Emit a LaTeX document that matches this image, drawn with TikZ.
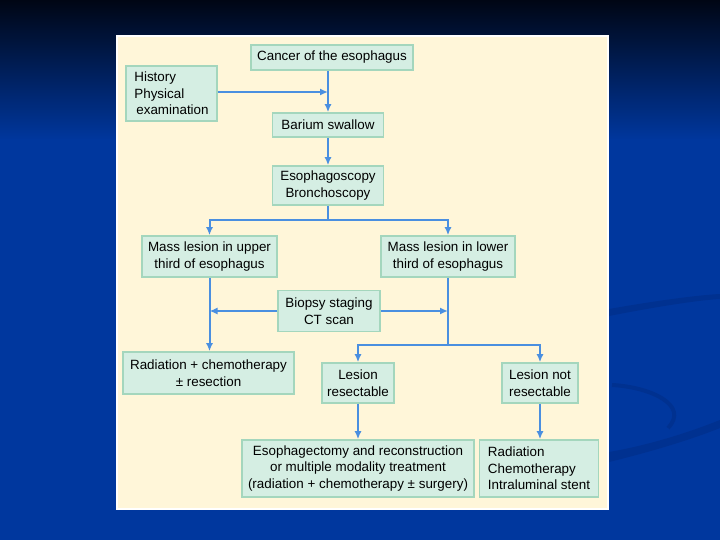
\documentclass[tikz,border=0pt]{standalone}
\usepackage{fontspec}
\setmainfont{Liberation Sans}
\usepackage{tikz}
\usetikzlibrary{arrows.meta}

\definecolor{topbg}{HTML}{000614}
\definecolor{midbg}{HTML}{001C5E}
\definecolor{slidebg}{HTML}{00379E}
\definecolor{swoosh}{HTML}{003190}
\definecolor{panel}{HTML}{FFF6D9}
\definecolor{boxfill}{HTML}{D5EEE3}
\definecolor{boxline}{HTML}{A4D6BD}
\definecolor{arrowblue}{HTML}{4A8FE0}

\begin{document}
\begin{tikzpicture}[x=1pt,y=-1pt,
        box/.style={draw=boxline,line width=1.6pt,fill=boxfill,inner sep=2pt,
            align=center,font=\fontsize{13.4}{16.5}\selectfont},
        arr/.style={draw=arrowblue,line width=2pt,-{Latex[length=8pt,width=7pt]}},
        link/.style={draw=arrowblue,line width=2pt}]
            \useasboundingbox (0,0) rectangle (720,540);

            % slide background
            \shade[top color=topbg,middle color=midbg,bottom color=slidebg] (0,0) rectangle (720,140);
            \fill[slidebg] (0,139) rectangle (720,540);
            \fill[swoosh] (609,309) .. controls (660,300) and (700,295) .. (720,294)
                -- (720,299) .. controls (700,300) and (660,306) .. (609,316) -- cycle;
            \draw[swoosh,line width=4pt] (612,385) .. controls (650,387) and (690,405) .. (668,428);
            \fill[swoosh] (609,452) .. controls (650,445) and (690,432) .. (720,420)
                -- (720,428) .. controls (690,440) and (650,452) .. (609,462) -- cycle;

            % panel
            \fill[white] (116,35) rectangle (609,510);
            \fill[panel] (118,37) rectangle (607,508);

            \node[box,minimum width=162pt,minimum height=25pt] (cancer) at (332,57.5){Cancer of the esophagus};
            \node[box,align=left,minimum width=91pt,minimum height=55pt] (hist) at (171.5,93.5){History\\Physical\\\hspace{2pt}examination};
            \node[box,minimum width=111pt,minimum height=24pt] (barium) at (328,125){Barium swallow};
            \node[box,minimum width=111pt,minimum height=39pt] (esoph) at (328,185.5){Esophagoscopy\\Bronchoscopy};
            \node[box,minimum width=135pt,minimum height=41pt] (upper) at (209.5,256.5){Mass lesion in upper\\third of esophagus};
            \node[box,minimum width=134pt,minimum height=41pt] (lower) at (448,256.5){Mass lesion in lower\\third of esophagus};
            \node[box,minimum width=102pt,minimum height=41pt] (biopsy) at (329,311){Biopsy staging\\CT scan};
            \node[box,minimum width=171pt,minimum height=42pt] (radchem) at (208.5,373){Radiation + chemotherapy\\± resection};
            \node[box,minimum width=72pt,minimum height=40pt] (res) at (358,383){Lesion\\resectable};
            \node[box,minimum width=76pt,minimum height=40pt] (nres) at (540,383){Lesion not\\resectable};
            \node[box,minimum width=232pt,minimum height=57pt] (esect) at (358,468.5){Esophagectomy and reconstruction\\or multiple modality treatment\\(radiation + chemotherapy ± surgery)};
            \node[box,align=left,minimum width=119pt,minimum height=57pt] (radst) at (539,468.5){Radiation\\Chemotherapy\\Intraluminal stent};

            \coordinate (hj) at (328,92);
            \coordinate (s1) at (328,220);
            \coordinate (s2) at (448,345);

            \draw[arr] (barium |- cancer.south) -- (barium);
            \draw[arr] (hist.east |- hj) -- (hj);
            \draw[arr] (barium) -- (esoph);
            \draw[link] (esoph) -- (s1);
            \draw[arr] (s1) -| (upper);
            \draw[arr] (s1) -| (lower);
            \draw[arr] (upper.south) -- (upper.south |- radchem.north);
            \draw[link] (lower) -- (s2);
            \draw[arr] (s2) -| (res);
            \draw[arr] (s2) -| (nres);
            \draw[arr] (biopsy) -- (biopsy -| upper);
            \draw[arr] (biopsy) -- (biopsy -| lower);
            \draw[arr] (res) -- (res |- esect.north);
            \draw[arr] (nres) -- (nres |- radst.north);
        \end{tikzpicture}
\end{document}
